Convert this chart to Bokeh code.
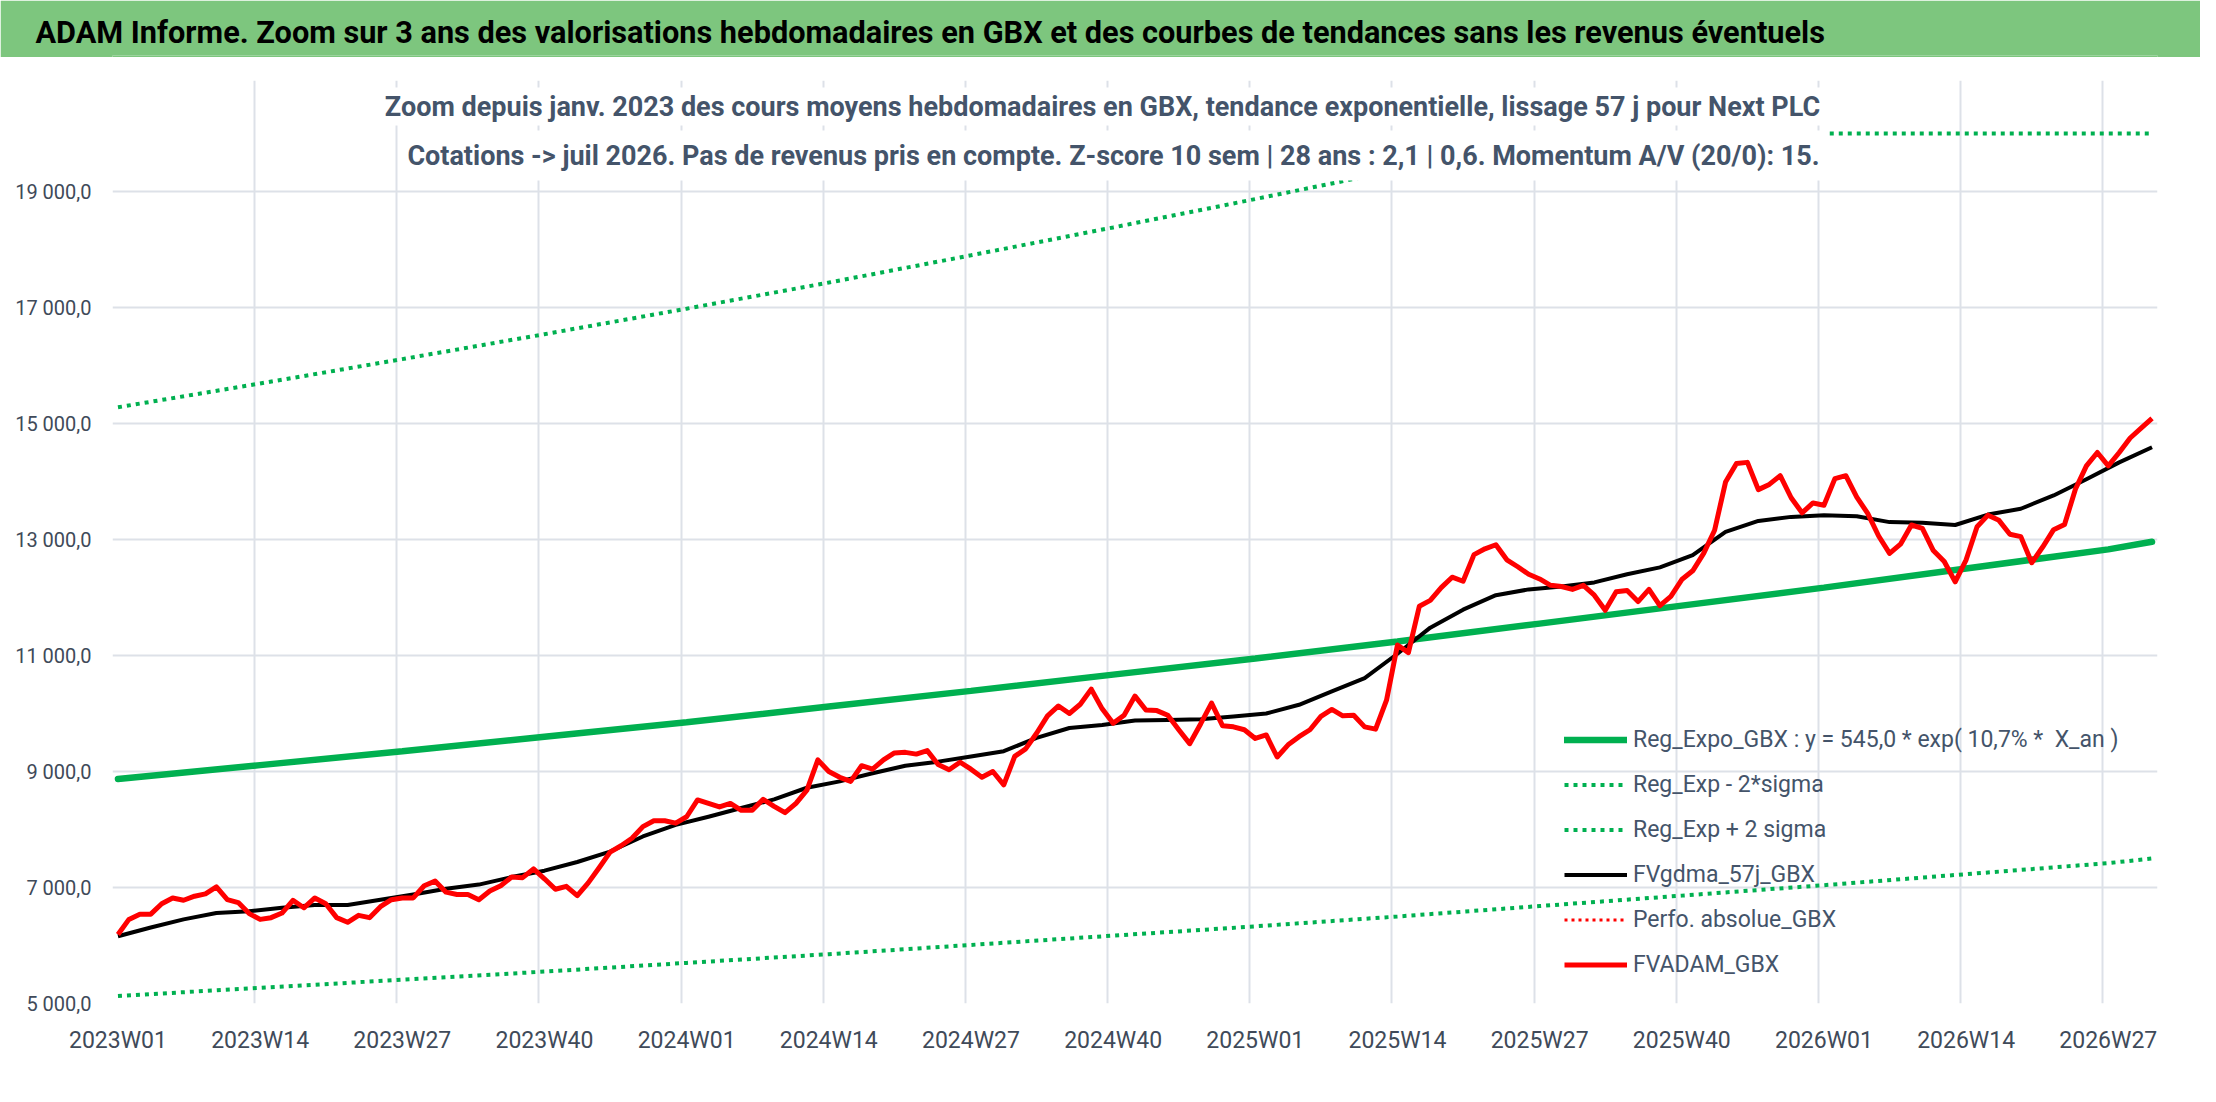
import numpy as np
from bokeh.plotting import figure
from bokeh.models import Range1d, FixedTicker, Label, Legend, LegendItem
from bokeh.layouts import column
from bokeh.embed import file_html
from bokeh.resources import INLINE

FONT = "Roboto"
GREEN = "#00B050"
SLATE = "#44546A"
TICK_COLOR = "#404A59"
BANNER_GREEN = "#7DC67E"
FRAME_LEFT = 112  # the plot frames of the stacked figures line up at this x

# weekly categories 2023W01 .. 2026W31
year_lengths = [(2023, 52), (2024, 52), (2025, 52), (2026, 31)]
weeks = [f"{y}W{w:02d}" for y, n in year_lengths for w in range(1, n + 1)]
week_index = {w: i for i, w in enumerate(weeks)}

x_tick_labels = ["2023W01", "2023W14", "2023W27", "2023W40", "2024W01", "2024W14",
                 "2024W27", "2024W40", "2025W01", "2025W14", "2025W27", "2025W40",
                 "2026W01", "2026W14", "2026W27"]
y_ticks = [5000, 7000, 9000, 11000, 13000, 15000, 17000, 19000]
y_tick_labels = ["5 000,0", "7 000,0", "9 000,0", "11 000,0", "13 000,0",
                 "15 000,0", "17 000,0", "19 000,0"]
y_top = 20000        # top of the value axis
y_frame_top = 20914  # extra room above the axis for the chart subtitle

# FVADAM_GBX, weekly average price (red)
fvadam = [6190, 6450, 6540, 6540, 6720, 6820, 6780, 6850, 6890, 7010,
          6790, 6740, 6550, 6450, 6480, 6560, 6780, 6650, 6820, 6720,
          6480, 6400, 6520, 6480, 6670, 6790, 6820, 6820, 7030, 7110,
          6920, 6880, 6880, 6790, 6940, 7030, 7180, 7170, 7320, 7150,
          6970, 7020, 6860, 7080, 7340, 7610, 7720, 7850, 8050, 8150,
          8150, 8110, 8220, 8510, 8450, 8390, 8450, 8330, 8330, 8520,
          8400, 8290, 8450, 8680, 9200, 9000, 8900, 8830, 9100, 9040,
          9200, 9320, 9330, 9300, 9360, 9120, 9030, 9160, 9040, 8900,
          9000, 8770, 9260, 9390, 9660, 9960, 10130, 10000, 10160, 10420,
          10080, 9830, 9970, 10300, 10060, 10050, 9970, 9720, 9480, 9820,
          10180, 9790, 9770, 9720, 9570, 9630, 9250, 9460, 9600, 9720,
          9950, 10070, 9960, 9970, 9770, 9730, 10230, 11180, 11050, 11850,
          11950, 12170, 12350, 12280, 12740, 12840, 12910, 12650, 12530, 12400,
          12320, 12210, 12190, 12140, 12210, 12040, 11780, 12100, 12120, 11930,
          12140, 11860, 12020, 12310, 12460, 12760, 13160, 13990, 14310, 14330,
          13860, 13950, 14100, 13720, 13460, 13630, 13590, 14050, 14100, 13730,
          13450, 13060, 12760, 12920, 13250, 13190, 12810, 12620, 12270, 12650,
          13220, 13420, 13330, 13090, 13050, 12600, 12870, 13170, 13260, 13870,
          14270, 14500, 14270, 14500, 14750, 14920, 15090]

# FVgdma_57j_GBX, smoothed price (black), read every third week
gdma_weeks = weeks[::3]
fvgdma = [6160, 6310, 6450, 6560, 6590, 6650, 6700, 6700, 6790, 6880,
          6980, 7050, 7180, 7290, 7440, 7620, 7880, 8080, 8220, 8370,
          8520, 8720, 8830, 8970, 9100, 9170, 9260, 9350, 9580, 9750,
          9800, 9880, 9890, 9900, 9950, 10000, 10150, 10380, 10610, 11030,
          11480, 11790, 12040, 12140, 12190, 12260, 12400, 12520, 12730, 13130,
          13320, 13390, 13420, 13400, 13300, 13290, 13250, 13430, 13530, 13760,
          14040, 14330, 14590]

# regression curves, read at the labelled weeks and the last week
trend_weeks = x_tick_labels + ["2026W31"]
reg_expo = [8870, 9110, 9350, 9600, 9850, 10120, 10390, 10670, 10950, 11240,
            11550, 11860, 12170, 12500, 12830, 12960]
reg_minus = [5130, 5270, 5410, 5550, 5700, 5850, 6010, 6170, 6330, 6500,
             6680, 6860, 7040, 7230, 7420, 7500]
reg_plus = [15280, 15690, 16110, 16540, 16980, 17430, 17900, 18380, 18870, 19370,
            19890, 20420, 20970, 21530, 22100, 22280]
# Perfo. absolue_GBX: shown in the legend only, no visible points
perfo_weeks = ["2023W01"]
perfo = [np.nan]

banner_text = ("ADAM Informe. Zoom sur 3 ans des valorisations hebdomadaires en GBX "
               "et des courbes de tendances sans les revenus éventuels")
subtitle_1 = ("Zoom depuis janv. 2023 des cours moyens hebdomadaires en GBX, "
              "tendance exponentielle, lissage 57 j pour Next PLC")
subtitle_2 = ("Cotations -> juil 2026. Pas de revenus pris en compte. "
              "Z-score 10 sem | 28 ans : 2,1 | 0,6. Momentum A/V (20/0): 15.")


def flat_strip(height, color, **kw):
    f = figure(width=2200, height=height, output_backend="svg", toolbar_location=None,
               x_range=Range1d(0, 1), y_range=Range1d(0, 1), min_border=0,
               x_axis_type=None, y_axis_type=None, **kw)
    f.grid.visible = False
    f.outline_line_color = None
    f.background_fill_color = color
    f.border_fill_color = color
    return f


# ---- banner: green strip, its text is the strip's title ----
banner = flat_strip(57, BANNER_GREEN, title=banner_text, min_border_top=55)
banner.title.align = "left"
banner.title.offset = 35 - FRAME_LEFT
banner.title.vertical_align = "middle"
banner.title.text_font = FONT
banner.title.text_font_style = "bold"
banner.title.text_font_size = "30.7px"
banner.title.text_color = "black"
sep = flat_strip(3, "#DADADA")

# ---- main chart ----
p = figure(width=2200, height=1026, output_backend="svg", toolbar_location=None,
           x_range=Range1d(-0.5, len(weeks) - 0.5),
           y_range=Range1d(y_ticks[0], y_frame_top),
           min_border_left=FRAME_LEFT, min_border_right=43, min_border_top=20,
           min_border_bottom=83)
p.outline_line_color = None
p.background_fill_color = "white"
p.border_fill_color = "white"

p.xaxis.ticker = FixedTicker(ticks=[week_index[w] for w in x_tick_labels])
p.xaxis.major_label_overrides = {week_index[w]: w for w in x_tick_labels}
p.xgrid.ticker = FixedTicker(ticks=[week_index[w] - 0.5 for w in x_tick_labels])
p.xgrid.bounds = (y_ticks[0], y_top)
p.yaxis.ticker = FixedTicker(ticks=y_ticks)
p.yaxis.major_label_overrides = dict(zip(y_ticks, y_tick_labels))

p.axis.axis_line_color = None
p.axis.major_tick_line_color = None
p.axis.major_tick_out = 0
p.axis.major_tick_in = 0
p.axis.minor_tick_line_color = None
p.axis.major_label_text_font = FONT
p.axis.major_label_text_color = TICK_COLOR
p.xaxis.major_label_text_font_size = "23px"
p.yaxis.major_label_text_font_size = "20px"
p.yaxis.major_label_standoff = 21
p.xaxis.major_label_standoff = 23
p.grid.grid_line_color = "#DDE1E8"
p.grid.grid_line_width = 2

wx = list(range(len(weeks)))
tx = [week_index[w] for w in trend_weeks]
gx = [week_index[w] for w in gdma_weeks]
px = [week_index[w] for w in perfo_weeks]

r_expo = p.line(tx, reg_expo, line_color=GREEN, line_width=6.5, line_cap="round")
r_minus = p.line(tx, reg_minus, line_color=GREEN, line_width=4, line_dash="4 5")
r_plus = p.line(tx, np.minimum(reg_plus, y_top), line_color=GREEN, line_width=4,
                line_dash="4 5")
r_gdma = p.line(gx, fvgdma, line_color="black", line_width=4, line_join="round")
r_perfo = p.line(px, perfo, line_color="#FF0000", line_width=3, line_dash="3 4")
r_adam = p.line(wx, fvadam, line_color="#FF0000", line_width=5, line_join="round")

legend = Legend(items=[
    LegendItem(label="Reg_Expo_GBX : y = 545,0 * exp( 10,7% *  X_an )", renderers=[r_expo]),
    LegendItem(label="Reg_Exp - 2*sigma", renderers=[r_minus]),
    LegendItem(label="Reg_Exp + 2 sigma", renderers=[r_plus]),
    LegendItem(label="FVgdma_57j_GBX", renderers=[r_gdma]),
    LegendItem(label="Perfo. absolue_GBX", renderers=[r_perfo]),
    LegendItem(label="FVADAM_GBX", renderers=[r_adam]),
], location=(1452, 16))
legend.glyph_width = 63
legend.glyph_height = 45
legend.label_height = 45
legend.spacing = 0
legend.padding = 0
legend.margin = 0
legend.label_standoff = 6
legend.label_text_font = FONT
legend.label_text_font_size = "23px"
legend.label_text_color = SLATE
legend.background_fill_alpha = 0
legend.border_line_alpha = 0
p.add_layout(legend)

# chart subtitle on a white box, over the plot area like the spreadsheet title
for txt, sx, sy, pad in [(subtitle_1, 990, 897, 3), (subtitle_2, 1001, 848, 9)]:
    p.add_layout(Label(x=sx, y=sy, x_units="screen", y_units="screen", text=txt,
                       text_align="center", text_baseline="middle", text_font=FONT,
                       text_font_style="bold", text_font_size="27px", text_color=SLATE,
                       background_fill_color="white", padding=pad))

layout = column(banner, sep, p, spacing=0)
open("out.html", "w").write(file_html(layout, INLINE))
